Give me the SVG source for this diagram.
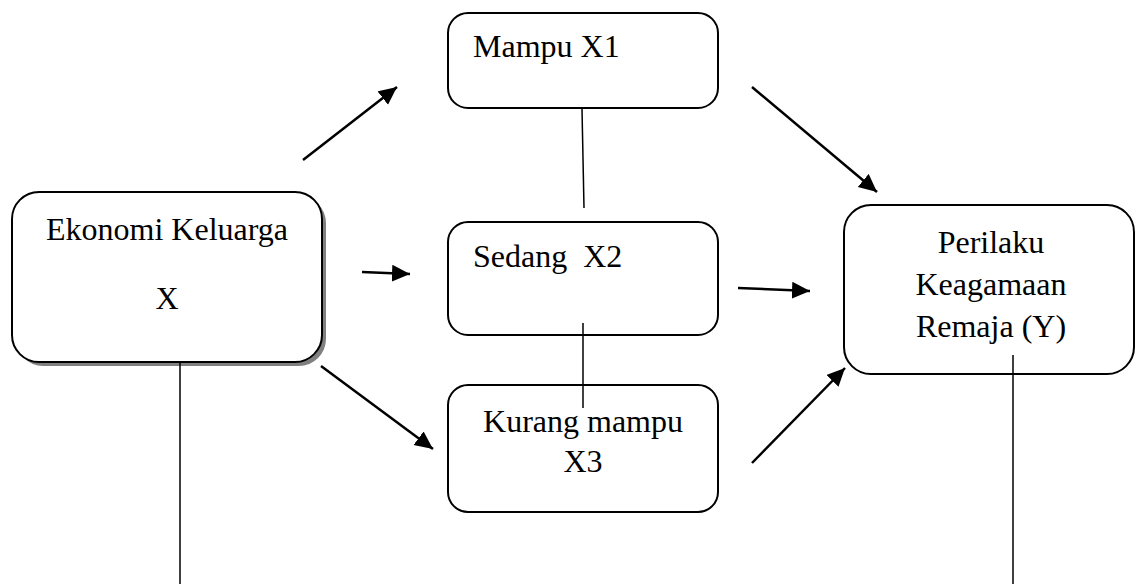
<svg xmlns="http://www.w3.org/2000/svg" width="1136" height="584" viewBox="0 0 1136 584">
<style>
.box{fill:#fff;stroke:#000;stroke-width:2}
text{font-family:'Liberation Serif','Times New Roman',Times,serif;font-size:32px;fill:#000}
.c{text-anchor:middle}
.arr{stroke:#000;stroke-width:2.5;fill:none;marker-end:url(#ah)}
.ln{stroke:#000;stroke-width:1.5;fill:none}
</style>
<defs>
<marker id="ah" markerUnits="userSpaceOnUse" markerWidth="20" markerHeight="18" refX="18" refY="8.5" orient="auto">
<path d="M0,0 L18,8.5 L0,17 z" fill="#000"/>
</marker>
</defs>
<g id="ekonomi">
<rect x="16" y="196" width="310" height="170" rx="27" fill="#808080"/>
<rect class="box" x="12" y="192" width="310" height="170" rx="27"/>
<text class="c" x="167" y="240">Ekonomi Keluarga</text>
<text class="c" x="167" y="309">X</text>
</g>
<g id="mampu">
<rect class="box" x="448" y="13" width="270" height="95" rx="20"/>
<text x="473" y="57">Mampu X1</text>
</g>
<g id="sedang">
<rect class="box" x="448" y="222" width="270" height="113" rx="20"/>
<text x="473" y="267" xml:space="preserve">Sedang  X2</text>
</g>
<g id="kurang">
<rect class="box" x="448" y="385" width="270" height="127" rx="20"/>
<text class="c" x="583" y="432">Kurang mampu</text>
<text class="c" x="583" y="472">X3</text>
</g>
<g id="perilaku">
<rect class="box" x="844" y="205" width="290" height="169" rx="27"/>
<text class="c" x="991" y="253">Perilaku</text>
<text class="c" x="991" y="295">Keagamaan</text>
<text class="c" x="991" y="337">Remaja (Y)</text>
</g>
<g id="connectors">
<line class="ln" x1="180" y1="363" x2="180" y2="584"/>
<line class="ln" x1="1013" y1="355" x2="1013" y2="584"/>
<line class="ln" x1="582" y1="109" x2="584" y2="208"/>
<line class="ln" x1="583" y1="323" x2="583" y2="408"/>
<line class="arr" x1="303" y1="160" x2="397" y2="87"/>
<line class="arr" x1="362" y1="272" x2="410" y2="274"/>
<line class="arr" x1="321" y1="366" x2="433" y2="449"/>
<line class="arr" x1="752" y1="87" x2="877" y2="192"/>
<line class="arr" x1="738" y1="288" x2="810" y2="291"/>
<line class="arr" x1="752" y1="463" x2="845" y2="368"/>
</g>
</svg>
